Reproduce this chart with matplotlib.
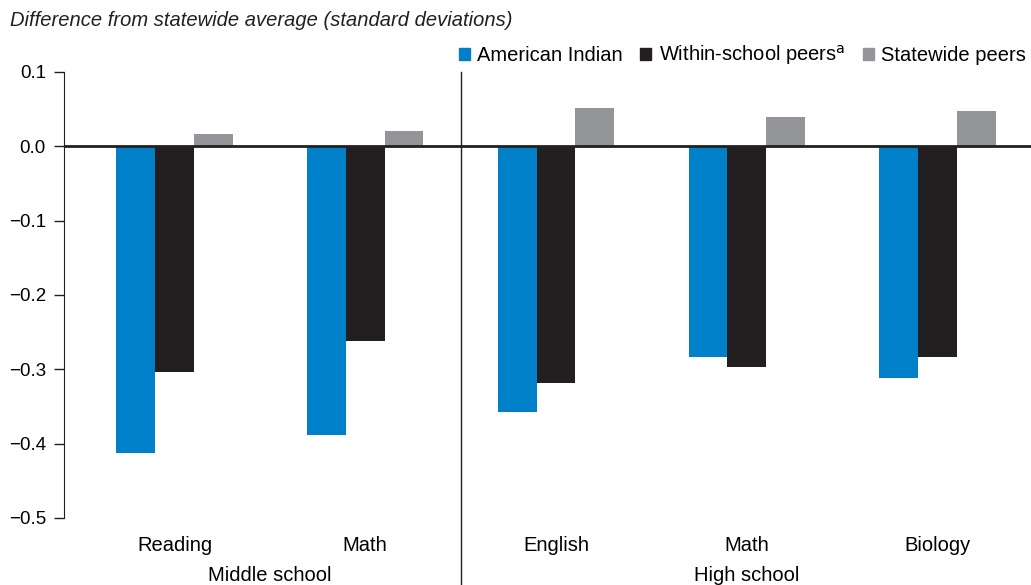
import matplotlib.pyplot as plt
from matplotlib.patches import Patch

# data
subjects = ['Reading', 'Math', 'English', 'Math', 'Biology']
levels = ['Middle school', 'High school']
american_indian = [-0.412, -0.389, -0.357, -0.283, -0.311]
within_school = [-0.303, -0.262, -0.319, -0.297, -0.284]
statewide = [0.016, 0.021, 0.051, 0.040, 0.048]
series_names = ['American Indian', 'Within-school peers$^{\\mathrm{a}}$', 'Statewide peers']
colors = ['#0080c8', '#231f20', '#939598']

plt.rcParams['font.family'] = ['Liberation Sans', 'DejaVu Sans']

fig = plt.figure(figsize=(10.31, 5.85), dpi=100)
ax = fig.add_axes([64 / 1031, 1 - 518 / 585, 1 - 64 / 1031, (518 - 72) / 585])

x = list(range(len(subjects)))
w = 0.203
for i, (vals, c) in enumerate(zip([american_indian, within_school, statewide], colors)):
    ax.bar([p + (i - 1) * w for p in x], vals, width=w, color=c, zorder=2)

ax.set_xlim(-0.579, 4.49)
ax.set_ylim(-0.5, 0.1)
ax.set_yticks([0.1, 0.0, -0.1, -0.2, -0.3, -0.4, -0.5])
ax.set_yticklabels(['0.1', '0.0', '\u22120.1', '\u22120.2', '\u22120.3', '\u22120.4', '\u22120.5'])
ax.tick_params(axis='y', length=7, width=1, labelsize=13.5, pad=6, color='#231f20')
ax.set_xticks(x)
ax.set_xticklabels(subjects)
ax.tick_params(axis='x', length=0, labelsize=14.5, pad=13)

for s in ['top', 'right', 'bottom']:
    ax.spines[s].set_visible(False)
ax.spines['left'].set_color('#231f20')

ax.axhline(0, color='#231f20', lw=2, zorder=3)
ax.plot([1.5, 1.5], [1.0, -0.15], transform=ax.get_xaxis_transform(),
        color='#231f20', lw=1, clip_on=False)

ax.text(0.5, -0.128, levels[0], transform=ax.get_xaxis_transform(),
        ha='center', va='center', fontsize=14.5)
ax.text(3.0, -0.128, levels[1], transform=ax.get_xaxis_transform(),
        ha='center', va='center', fontsize=14.5)

fig.text(10 / 1031, 1 - 20 / 585, 'Difference from statewide average (standard deviations)',
         style='italic', fontsize=14.5, va='center', color='#231f20')

handles = [Patch(color=c) for c in colors]
fig.legend(handles, series_names, loc='center right', bbox_to_anchor=(1.003, 1 - 55 / 585),
           ncol=3, frameon=False, fontsize=14.5, handlelength=0.55, handleheight=0.55,
           handletextpad=0.35, columnspacing=0.9, borderaxespad=0)

fig.savefig('out.png', dpi=100)
